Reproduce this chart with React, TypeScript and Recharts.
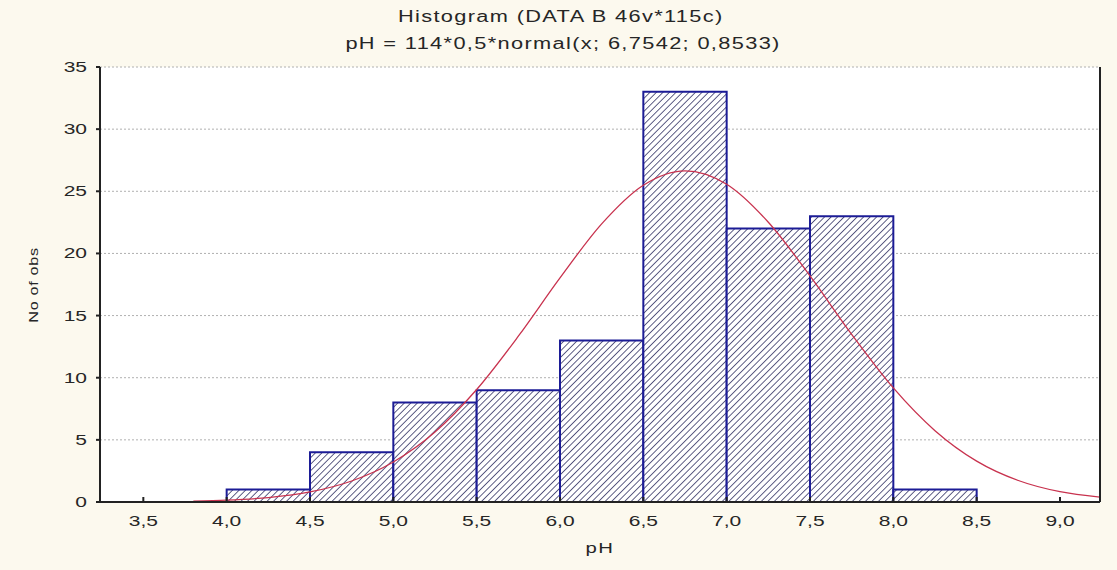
import React from 'react';
import { ComposedChart, Line, XAxis, YAxis, CartesianGrid, ReferenceArea } from 'recharts';

// Histogram bins (pH class limits) and observed counts
const binStarts = [4.0, 4.5, 5.0, 5.5, 6.0, 6.5, 7.0, 7.5, 8.0];
const binEnds = [4.5, 5.0, 5.5, 6.0, 6.5, 7.0, 7.5, 8.0, 8.5];
const counts = [1, 4, 8, 9, 13, 33, 22, 23, 1];

// Fitted normal curve
const curveX = [3.8, 4.0, 4.25, 4.5, 4.75, 5.0, 5.25, 5.5, 5.75, 6.0, 6.25, 6.5, 6.75, 7.0, 7.25, 7.5, 7.75, 8.0, 8.25, 8.5, 8.75, 9.0, 9.24];
const curveY = [0.07, 0.15, 0.36, 0.81, 1.69, 3.22, 5.63, 9.05, 13.34, 18.03, 22.38, 25.49, 26.65, 25.57, 22.51, 18.19, 13.49, 9.18, 5.74, 3.29, 1.73, 0.83, 0.39];

const xTicks = [3.5, 4.0, 4.5, 5.0, 5.5, 6.0, 6.5, 7.0, 7.5, 8.0, 8.5, 9.0];
const yTicks = [0, 5, 10, 15, 20, 25, 30, 35];

const title1 = 'Histogram (DATA B 46v*115c)';
const title2 = 'pH = 114*0,5*normal(x; 6,7542; 0,8533)';
const xLabel = 'pH';
const yLabel = 'No of obs';

const curveData = curveX.map((x, i) => ({ x, y: curveY[i] }));

const FONT = '"Liberation Sans", Arial, sans-serif';
const TXT = '#262626';

function XTick(props: any) {
  const { x, y, payload } = props;
  return (
    <g transform={`translate(${x},${y})`}>
      <text transform="scale(1.5,1)" textAnchor="middle" dy="0.71em" fontFamily={FONT} fontSize={14} fill={TXT}>
        {Number(payload.value).toFixed(1).replace('.', ',')}
      </text>
    </g>
  );
}

function YTick(props: any) {
  const { x, y, payload } = props;
  return (
    <g transform={`translate(${x},${y})`}>
      <text transform="scale(1.5,1)" textAnchor="end" dy="0.355em" fontFamily={FONT} fontSize={14} fill={TXT}>
        {String(payload.value)}
      </text>
    </g>
  );
}

const titleLine: React.CSSProperties = { display: 'inline-block', transform: 'scaleX(1.36)', transformOrigin: 'center', whiteSpace: 'nowrap' };

export default function App() {
  return (
    <div style={{ position: 'fixed', left: 0, top: 0, width: 1117, height: 570, background: '#fcf9ee', overflow: 'hidden' }}>
      <div style={{ position: 'absolute', left: 0, width: 1117, top: 7, textAlign: 'center', fontFamily: FONT, fontSize: 16, letterSpacing: 1, color: TXT }}>
        <div style={{ position: 'relative', left: 2, lineHeight: '20px' }}><span style={titleLine}>{title1}</span></div>
        <div style={{ position: 'relative', left: 5, lineHeight: '20px', marginTop: 7 }}><span style={titleLine}>{title2}</span></div>
      </div>
      <div style={{ position: 'absolute', left: 600 - 40, width: 80, top: 540, textAlign: 'center', fontFamily: FONT, fontSize: 14, letterSpacing: 1, color: TXT }}>
        <span style={{ display: 'inline-block', transform: 'scaleX(1.45)' }}>{xLabel}</span>
      </div>
      <div style={{ position: 'absolute', left: 34 - 60, width: 120, top: 285 - 9, textAlign: 'center', fontFamily: FONT, fontSize: 12.5, letterSpacing: 0.5, color: TXT, transform: 'rotate(-90deg)', lineHeight: '18px' }}>
        <span style={{ display: 'inline-block', transform: 'scaleX(1.3)' }}>{yLabel}</span>
      </div>
      <ComposedChart
        width={1117}
        height={570}
        data={curveData}
        margin={{ top: 67, right: 0, bottom: 28, left: 40 }}
        style={{ position: 'absolute', left: 0, top: 0 }}
      >
        <defs>
          <pattern id="hatch" patternUnits="userSpaceOnUse" width="4.6" height="4.6" patternTransform="rotate(45)">
            <rect width="4.6" height="4.6" fill="#ffffff" />
            <line x1="0" y1="0" x2="0" y2="4.6" stroke="#2a2a5e" strokeWidth="1.5" />
          </pattern>
        </defs>
        <CartesianGrid vertical={false} horizontal stroke="#b0b0b0" strokeDasharray="2 2" fill="#ffffff" horizontalValues={yTicks} />
        <XAxis
          dataKey="x"
          type="number"
          domain={[3.24, 9.24]}
          ticks={xTicks}
          allowDataOverflow
          height={40}
          tickSize={-5}
          tickMargin={19}
          tickLine={{ stroke: '#222', strokeWidth: 2 }}
          axisLine={{ stroke: '#222', strokeWidth: 2 }}
          tick={<XTick />}
          interval={0}
        />
        <XAxis
          xAxisId="top"
          orientation="top"
          type="number"
          domain={[3.24, 9.24]}
          ticks={xTicks}
          allowDataOverflow
          height={0}
          tickSize={-5}
          tick={false}
          tickLine={{ stroke: '#222', strokeWidth: 2 }}
          axisLine={{ stroke: '#222', strokeWidth: 2 }}
          interval={0}
        />
        <YAxis
          type="number"
          domain={[0, 35]}
          ticks={yTicks}
          allowDataOverflow
          width={60}
          tickSize={4}
          tickMargin={9}
          tickLine={{ stroke: '#222', strokeWidth: 2 }}
          axisLine={{ stroke: '#222', strokeWidth: 2 }}
          tick={<YTick />}
          interval={0}
        />
        <YAxis
          yAxisId="right"
          orientation="right"
          type="number"
          domain={[0, 35]}
          ticks={yTicks}
          width={17}
          tickSize={-4}
          tick={false}
          tickLine={{ stroke: '#222', strokeWidth: 2 }}
          axisLine={{ stroke: '#222', strokeWidth: 2 }}
          interval={0}
        />
        {counts.map((c, i) => (
          <ReferenceArea
            key={i}
            x1={binStarts[i]}
            x2={binEnds[i]}
            y1={0}
            y2={c}
            fill="url(#hatch)"
            fillOpacity={1}
            stroke="#1c1c96"
            strokeWidth={2}
            strokeOpacity={1}
            ifOverflow="visible"
          />
        ))}
        <Line
          type="monotone"
          dataKey="y"
          stroke="#c8324e"
          strokeWidth={1.3}
          dot={false}
          isAnimationActive={false}
        />
      </ComposedChart>
    </div>
  );
}
